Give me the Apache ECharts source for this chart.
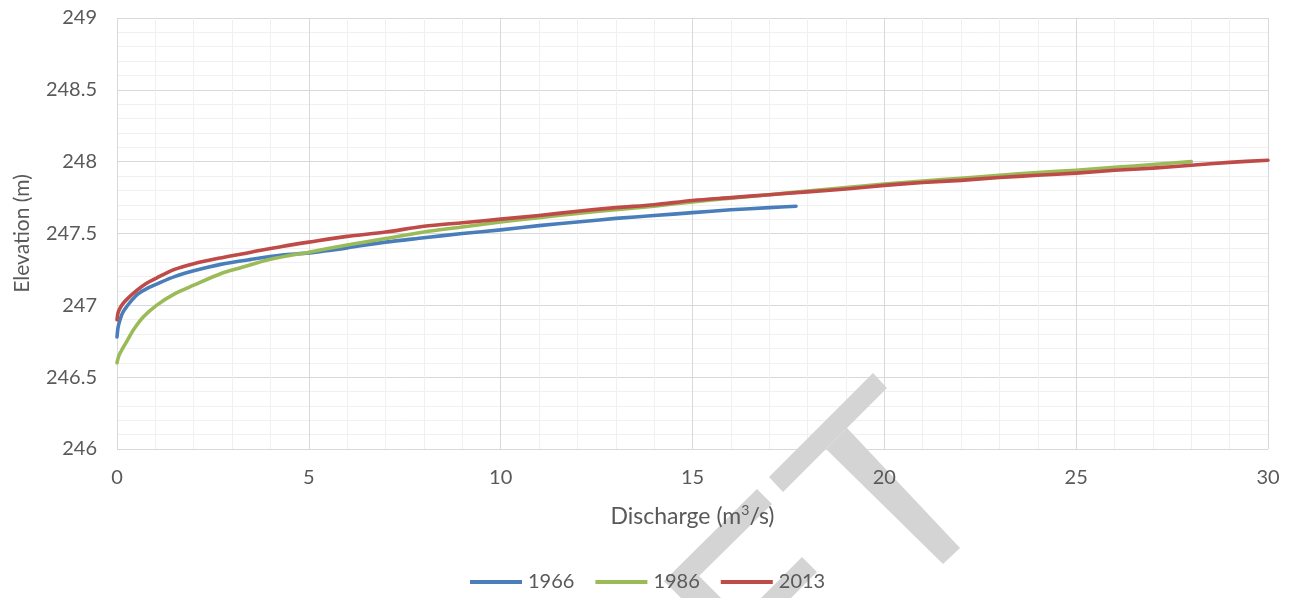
<!DOCTYPE html>
<html>
<head>
<meta charset="utf-8">
<script src="https://cdn.jsdelivr.net/npm/echarts@6/dist/echarts.min.js"></script>
<style>
  html, body { margin: 0; padding: 0; background: #ffffff; }
  #chart { width: 1294px; height: 598px; }
</style>
</head>
<body>
<div id="chart"></div>
<script>
// Stage–discharge (rating) curves, discharge in m³/s, elevation in m
const seriesNames = ['1966', '1986', '2013'];

const discharge1966 = [0, 0.03, 0.08, 0.15, 0.25, 0.4, 0.55, 0.8, 1.05, 1.5, 2.0, 2.7, 3.5, 4.3, 5.0, 6.0, 7.0, 8.0, 9.0, 10.0, 11.0, 12.0, 13.0, 14.0, 15.0, 16.0, 17.0, 17.7];
const elevation1966 = [246.78, 246.85, 246.90, 246.95, 246.99, 247.04, 247.08, 247.12, 247.15, 247.20, 247.24, 247.285, 247.32, 247.35, 247.365, 247.40, 247.44, 247.47, 247.50, 247.525, 247.555, 247.58, 247.605, 247.625, 247.645, 247.665, 247.68, 247.69];

const discharge1986 = [0, 0.05, 0.17, 0.3, 0.43, 0.69, 1.03, 1.5, 2.0, 2.7, 3.2, 4.0, 5.0, 6.0, 7.0, 8.0, 9.0, 10.0, 11.0, 12.0, 13.0, 14.0, 15.0, 16.0, 17.0, 18.0, 19.0, 20.0, 21.0, 22.0, 23.0, 24.0, 25.0, 26.0, 27.0, 28.0];
const elevation1986 = [246.60, 246.65, 246.71, 246.77, 246.83, 246.92, 247.00, 247.08, 247.14, 247.22, 247.26, 247.32, 247.37, 247.42, 247.465, 247.51, 247.545, 247.58, 247.61, 247.64, 247.665, 247.69, 247.72, 247.745, 247.77, 247.795, 247.82, 247.845, 247.865, 247.885, 247.905, 247.925, 247.94, 247.96, 247.98, 248.0];

const discharge2013 = [0, 0.03, 0.08, 0.15, 0.25, 0.5, 0.75, 1.03, 1.5, 2.0, 2.7, 3.5, 4.3, 5.0, 6.0, 7.0, 8.0, 9.0, 10.0, 11.0, 12.0, 13.0, 14.0, 15.0, 16.0, 17.0, 18.0, 19.0, 20.0, 21.0, 22.0, 23.0, 24.0, 25.0, 26.0, 27.0, 28.0, 29.0, 30.0];
const elevation2013 = [246.90, 246.95, 246.98, 247.01, 247.04, 247.10, 247.15, 247.19, 247.25, 247.29, 247.33, 247.37, 247.41, 247.44, 247.48, 247.51, 247.55, 247.575, 247.60, 247.625, 247.655, 247.68, 247.70, 247.73, 247.75, 247.77, 247.79, 247.81, 247.835, 247.855, 247.87, 247.89, 247.905, 247.92, 247.94, 247.955, 247.975, 247.995, 248.01];

const xMin = 0, xMax = 30, xStep = 5;
const yMin = 246, yMax = 249, yStep = 0.5;

const colors = ['#4a7ebb', '#9bbb59', '#be4b48'];
const textColor = '#595959';
const fontFamily = 'Lato, "Open Sans", sans-serif';

function pairs(xs, ys) {
  return xs.map((x, i) => [x, ys[i]]);
}

const lineData = [
  pairs(discharge1966, elevation1966),
  pairs(discharge1986, elevation1986),
  pairs(discharge2013, elevation2013)
];

const chart = echarts.init(document.getElementById('chart'), null, { renderer: 'canvas' });

const gridLines = {
  splitLine: { show: true, lineStyle: { color: '#d9d9d9', width: 1 } },
  minorSplitLine: { show: true, lineStyle: { color: '#f0f0f0', width: 1 } },
  minorTick: { show: false, splitNumber: 5 }
};

// Diagonal "DRAFT" stamp pieces (grey bars)
const stampColor = '#d4d4d4';
const stamp = [
  [[769, 477], [873, 373], [887, 388], [783, 492]],
  [[826, 449], [847, 428], [960, 548], [943, 564]],
  [[757, 489], [772, 504], [699, 576], [745, 622], [705, 622], [664, 581]],
  [[802, 557], [817, 572], [767, 622], [737, 622]]
];

chart.setOption({
  backgroundColor: '#ffffff',
  animation: false,
  color: colors,
  grid: { left: 117, right: 26, top: 18, bottom: 149, containLabel: false },
  xAxis: [
    Object.assign({
      type: 'value', min: xMin, max: xMax, interval: xStep, position: 'bottom', z: 0,
      axisLine: { show: false }, axisTick: { show: false }, axisLabel: { show: false }
    }, gridLines),
    {
      type: 'value', min: xMin, max: xMax, interval: xStep, position: 'bottom', z: 6,
      splitLine: { show: false },
      axisLine: { show: false }, axisTick: { show: false },
      axisLabel: { color: textColor, fontSize: 20, fontFamily: fontFamily, margin: 19 },
      name: 'Discharge (m{sup|3}/s)', nameLocation: 'middle', nameGap: 54,
      nameTextStyle: {
        color: textColor, fontSize: 23, fontFamily: fontFamily, lineHeight: 28,
        rich: {
          sup: { color: textColor, fontSize: 14, fontFamily: fontFamily, verticalAlign: 'top', lineHeight: 16 }
        }
      }
    }
  ],
  yAxis: [
    Object.assign({
      type: 'value', min: yMin, max: yMax, interval: yStep, z: 0,
      axisLine: { show: false }, axisTick: { show: false },
      axisLabel: { color: textColor, fontSize: 20, fontFamily: fontFamily, margin: 20 },
      name: 'Elevation (m)', nameLocation: 'middle', nameGap: 84,
      nameTextStyle: { color: textColor, fontSize: 21, fontFamily: fontFamily }
    }, gridLines)
  ],
  legend: {
    left: 465, top: 567,
    itemWidth: 52, itemHeight: 4, itemGap: 21,
    icon: 'rect',
    textStyle: { color: textColor, fontSize: 20, fontFamily: fontFamily, padding: [0, 0, 0, 1] },
    data: seriesNames
  },
  graphic: stamp.map(pts => ({
    type: 'polygon', z: 3, silent: true,
    shape: { points: pts },
    style: { fill: stampColor }
  })),
  series: seriesNames.map((name, i) => ({
    name: name,
    type: 'line',
    xAxisIndex: 0,
    yAxisIndex: 0,
    data: lineData[i],
    showSymbol: false,
    symbol: 'none',
    smooth: 0.3,
    lineStyle: { width: 3.6, color: colors[i], cap: 'round', join: 'round' },
    z: 2 + i * 0.01
  }))
});
</script>
</body>
</html>
